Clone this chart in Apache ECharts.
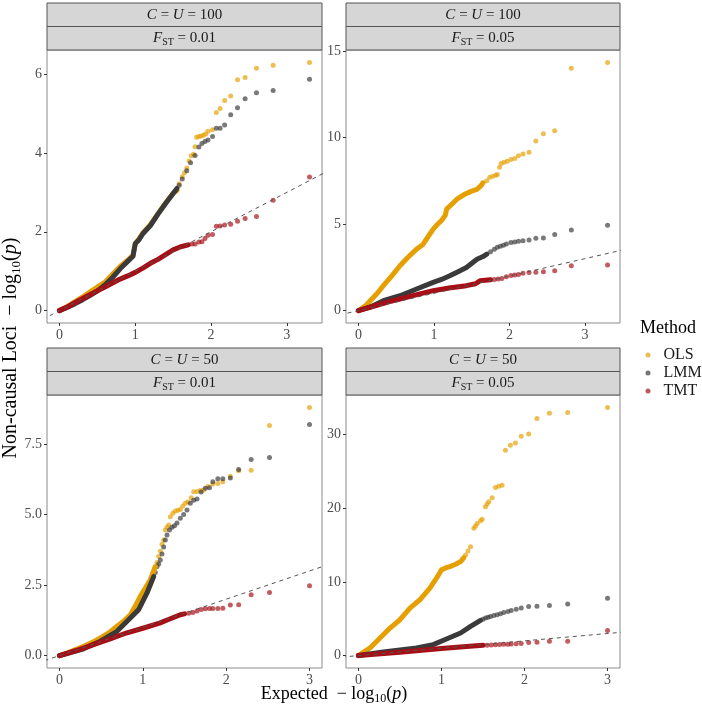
<!DOCTYPE html>
<html>
<head>
<meta charset="utf-8">
<script src="https://cdn.jsdelivr.net/npm/echarts@6/dist/echarts.min.js"></script>
<style>
html, body { margin: 0; padding: 0; background: #fff; }
#chart { width: 702px; height: 707px; }
</style>
</head>
<body>
<div id="chart"></div>
<script>
// 分面标题
const stripTop = ['100', '100', '50', '50']
const stripFst = ['0.01', '0.05', '0.01', '0.05']
const methods = ['OLS', 'LMM', 'TMT']

// 刻度
const xTicks = [0, 1, 2, 3]
const yTicksA = [0, 2, 4, 6]
const yTicksB = [0, 5, 10, 15]
const yTicksC = [0, 2.5, 5, 7.5]
const yTicksD = [0, 10, 20, 30]

// 参考线 y = x
const abline = [[-5, -5], [40, 40]]

// C = U = 100, FST = 0.01
const a_ols_band = [[0,0],[0.1,0.1],[0.2,0.22],[0.3,0.34],[0.4,0.47],[0.5,0.6],[0.6,0.72],[0.7,0.92],[0.8,1.12],[0.9,1.28],[0.97,1.4],[1.0,1.7],[1.05,1.82],[1.1,1.97],[1.2,2.18],[1.3,2.46],[1.4,2.73],[1.5,2.98],[1.55,3.05]]
const a_ols_dots = [[1.58,3.22],[1.62,3.4],[1.65,3.5],[1.68,3.62],[1.71,3.8],[1.74,3.93],[1.77,3.97],[1.79,4.16],[1.81,4.4],[1.84,4.42],[1.87,4.43],[1.9,4.45],[1.93,4.48],[1.96,4.55],[2.02,4.59],[2.07,5.03],[2.12,5.13],[2.18,5.33],[2.26,5.45],[2.35,5.86],[2.45,5.92],[2.6,6.15],[2.82,6.23],[3.3,6.3]]
const a_lmm_band = [[0,0],[0.1,0.08],[0.2,0.17],[0.3,0.27],[0.4,0.38],[0.5,0.5],[0.6,0.65],[0.7,0.84],[0.8,1.06],[0.9,1.25],[0.97,1.38],[1.0,1.7],[1.05,1.8],[1.1,1.95],[1.2,2.16],[1.3,2.45],[1.4,2.72],[1.5,2.97],[1.55,3.1]]
const a_lmm_dots = [[1.58,3.18],[1.62,3.34],[1.68,3.55],[1.73,3.75],[1.79,3.94],[1.84,4.15],[1.88,4.24],[1.92,4.29],[1.96,4.33],[2.02,4.42],[2.07,4.63],[2.12,4.63],[2.18,4.71],[2.26,4.97],[2.35,5.15],[2.45,5.38],[2.6,5.53],[2.82,5.59],[3.3,5.87]]
const a_tmt_band = [[0,0],[0.1,0.09],[0.2,0.2],[0.3,0.3],[0.4,0.4],[0.5,0.5],[0.6,0.6],[0.7,0.7],[0.8,0.8],[0.9,0.88],[1.0,0.97],[1.1,1.08],[1.2,1.2],[1.3,1.3],[1.4,1.42],[1.5,1.54],[1.6,1.62],[1.7,1.67]]
const a_tmt_dots = [[1.75,1.69],[1.79,1.69],[1.84,1.74],[1.88,1.75],[1.92,1.83],[1.96,1.91],[2.02,1.93],[2.07,2.14],[2.12,2.15],[2.18,2.17],[2.26,2.19],[2.35,2.27],[2.45,2.34],[2.6,2.39],[2.82,2.8],[3.3,3.39]]

// C = U = 100, FST = 0.05
const b_ols_band = [[0,0],[0.1,0.3],[0.155,0.57],[0.25,1.0],[0.33,1.44],[0.45,2.05],[0.55,2.59],[0.65,3.05],[0.77,3.55],[0.85,3.8],[0.9,4.12],[0.99,4.7],[1.05,5.0],[1.1,5.2],[1.15,5.5],[1.17,5.88],[1.25,6.2],[1.3,6.42],[1.4,6.7],[1.5,6.9],[1.57,7.0],[1.62,7.2],[1.65,7.38]]
const b_ols_dots = [[1.7,7.5],[1.74,7.7],[1.78,7.76],[1.82,7.82],[1.84,7.86],[1.87,8.28],[1.89,8.5],[1.93,8.57],[1.97,8.62],[2.02,8.72],[2.07,8.79],[2.12,8.95],[2.18,9.05],[2.26,9.14],[2.35,9.79],[2.45,10.21],[2.6,10.39],[2.82,14.0],[3.3,14.33]]
const b_lmm_band = [[0,0],[0.15,0.2],[0.33,0.57],[0.55,0.86],[0.77,1.25],[0.99,1.63],[1.1,1.8],[1.21,2.01],[1.32,2.25],[1.43,2.49],[1.57,2.97],[1.65,3.12],[1.7,3.26]]
const b_lmm_dots = [[1.75,3.4],[1.8,3.55],[1.84,3.66],[1.88,3.72],[1.92,3.78],[1.96,3.85],[2.02,3.93],[2.07,3.96],[2.12,4.0],[2.18,4.04],[2.26,4.08],[2.35,4.18],[2.45,4.2],[2.6,4.39],[2.82,4.66],[3.3,4.93]]
const b_tmt_band = [[0,0],[0.2,0.25],[0.4,0.5],[0.55,0.67],[0.8,0.95],[0.99,1.15],[1.2,1.3],[1.43,1.44],[1.55,1.55],[1.61,1.72],[1.75,1.78]]
const b_tmt_dots = [[1.8,1.8],[1.85,1.82],[1.9,1.85],[1.96,1.95],[2.02,2.02],[2.07,2.05],[2.12,2.08],[2.18,2.15],[2.26,2.2],[2.35,2.22],[2.45,2.25],[2.6,2.3],[2.82,2.59],[3.3,2.63]]

// C = U = 50, FST = 0.01
const c_ols_band = [[0,0],[0.1,0.1],[0.2,0.22],[0.29,0.33],[0.4,0.48],[0.49,0.63],[0.6,0.82],[0.69,1.04],[0.78,1.25],[0.85,1.45],[0.9,1.7],[0.97,2.1],[1.03,2.4],[1.09,2.69],[1.15,3.16]]
const c_ols_dots = [[1.17,3.3],[1.19,3.51],[1.21,3.7],[1.23,3.95],[1.25,4.1],[1.27,4.45],[1.29,4.55],[1.31,4.63],[1.33,4.92],[1.36,5.05],[1.39,5.13],[1.42,5.15],[1.45,5.18],[1.48,5.3],[1.51,5.4],[1.54,5.45],[1.58,5.6],[1.61,5.81],[1.65,5.82],[1.69,5.85],[1.73,5.87],[1.78,6.0],[1.84,6.08],[1.9,6.1],[1.96,6.16],[2.05,6.36],[2.15,6.55],[2.3,6.57],[2.52,8.16],[3.0,8.8]]
const c_lmm_band = [[0,0],[0.1,0.08],[0.29,0.24],[0.49,0.51],[0.69,0.86],[0.85,1.33],[0.95,1.63],[1.05,2.22],[1.13,2.8]]
const c_lmm_dots = [[1.15,2.95],[1.17,3.16],[1.19,3.25],[1.21,3.39],[1.23,3.6],[1.25,3.85],[1.27,4.1],[1.29,4.28],[1.32,4.45],[1.35,4.55],[1.38,4.6],[1.41,4.7],[1.45,4.87],[1.49,5.0],[1.53,5.16],[1.57,5.4],[1.61,5.51],[1.65,5.55],[1.7,5.8],[1.75,5.93],[1.8,5.95],[1.84,6.16],[1.9,6.27],[1.96,6.27],[2.05,6.3],[2.15,6.6],[2.3,6.95],[2.52,7.02],[3.0,8.19]]
const c_tmt_band = [[0,0],[0.2,0.18],[0.4,0.38],[0.6,0.58],[0.8,0.8],[1.0,0.97],[1.2,1.15],[1.3,1.27],[1.45,1.45],[1.5,1.48]]
const c_tmt_dots = [[1.55,1.5],[1.6,1.53],[1.65,1.58],[1.7,1.63],[1.75,1.66],[1.8,1.67],[1.84,1.67],[1.9,1.67],[1.96,1.68],[2.05,1.79],[2.15,1.8],[2.3,2.16],[2.52,2.24],[3.0,2.48]]

// C = U = 50, FST = 0.05
const d_ols_band = [[0,0],[0.14,1.04],[0.26,2.39],[0.38,3.74],[0.5,4.87],[0.62,6.45],[0.74,7.58],[0.86,9.16],[0.94,10.51],[1.0,11.64],[1.05,11.9],[1.1,12.09],[1.17,12.4],[1.23,12.76],[1.27,13.3]]
const d_ols_dots = [[1.29,13.67],[1.32,14.2],[1.35,14.79],[1.39,17.28],[1.41,17.6],[1.43,17.95],[1.47,18.3],[1.49,18.5],[1.53,20.2],[1.55,20.6],[1.57,20.88],[1.61,21.42],[1.65,22.82],[1.69,23.0],[1.73,23.14],[1.77,27.87],[1.83,28.55],[1.89,28.86],[1.96,29.8],[2.05,30.1],[2.15,32.2],[2.3,32.9],[2.52,33.0],[3.0,33.7]]
const d_lmm_band = [[0,0],[0.3,0.5],[0.7,1.04],[0.9,1.49],[1.06,2.26],[1.23,3.07],[1.35,3.97],[1.47,4.78]]
const d_lmm_dots = [[1.5,4.95],[1.53,5.1],[1.56,5.2],[1.59,5.32],[1.63,5.45],[1.67,5.55],[1.71,5.68],[1.75,5.85],[1.8,6.0],[1.84,6.13],[1.9,6.3],[1.96,6.45],[2.05,6.67],[2.15,6.7],[2.3,6.8],[2.52,7.0],[3.0,7.8]]
const d_tmt_band = [[0,0],[0.5,0.45],[1.0,0.95],[1.3,1.25],[1.5,1.4]]
const d_tmt_dots = [[1.55,1.42],[1.6,1.45],[1.65,1.48],[1.7,1.5],[1.75,1.53],[1.8,1.55],[1.84,1.58],[1.9,1.6],[1.96,1.65],[2.05,1.78],[2.15,1.8],[2.3,1.94],[2.52,1.94],[3.0,3.42]]

const colors = { OLS: '#E69F00', LMM: '#3A3A3A', TMT: '#A50F15' }
const serif = '"Liberation Serif", "DejaVu Serif", serif'

// 面板布局
const panels = [
    { left: 47, top: 50, width: 275, height: 273, xMin: -0.165, xMax: 3.465, yMin: -0.315, yMax: 6.615, yTicks: yTicksA, digits: 0,
      data: { OLS: [a_ols_band, a_ols_dots], LMM: [a_lmm_band, a_lmm_dots], TMT: [a_tmt_band, a_tmt_dots] } },
    { left: 346, top: 50, width: 274, height: 273, xMin: -0.165, xMax: 3.465, yMin: -0.716, yMax: 15.05, yTicks: yTicksB, digits: 0,
      data: { OLS: [b_ols_band, b_ols_dots], LMM: [b_lmm_band, b_lmm_dots], TMT: [b_tmt_band, b_tmt_dots] } },
    { left: 47, top: 395, width: 275, height: 273, xMin: -0.15, xMax: 3.15, yMin: -0.44, yMax: 9.24, yTicks: yTicksC, digits: 1,
      data: { OLS: [c_ols_band, c_ols_dots], LMM: [c_lmm_band, c_lmm_dots], TMT: [c_tmt_band, c_tmt_dots] } },
    { left: 346, top: 395, width: 274, height: 273, xMin: -0.15, xMax: 3.15, yMin: -1.685, yMax: 35.385, yTicks: yTicksD, digits: 0,
      data: { OLS: [d_ols_band, d_ols_dots], LMM: [d_lmm_band, d_lmm_dots], TMT: [d_tmt_band, d_tmt_dots] } },
]

const grid = [], xAxis = [], yAxis = [], series = [], graphic = []

panels.forEach((p, i) => {
    grid.push({ left: p.left, top: p.top, width: p.width, height: p.height, show: true,
        borderColor: '#8C8C8C', borderWidth: 1, backgroundColor: '#fff' })
    const tickStyle = { show: true, length: 3, lineStyle: { color: '#333', width: 1 } }
    xAxis.push({ type: 'value', gridIndex: i, min: p.xMin, max: p.xMax,
        axisLine: { show: false, onZero: false }, splitLine: { show: false },
        axisTick: Object.assign({ customValues: xTicks }, tickStyle),
        axisLabel: { customValues: xTicks, margin: 5, color: '#4D4D4D', fontSize: 14, fontFamily: serif } })
    yAxis.push({ type: 'value', gridIndex: i, min: p.yMin, max: p.yMax,
        axisLine: { show: false, onZero: false }, splitLine: { show: false },
        axisTick: Object.assign({ customValues: p.yTicks }, tickStyle),
        axisLabel: { customValues: p.yTicks, margin: 5, color: '#4D4D4D', fontSize: 14, fontFamily: serif,
            formatter: v => Number(v).toFixed(p.digits) } })

    methods.forEach(m => {
        const [band, dots] = p.data[m]
        series.push({ type: 'line', name: m, xAxisIndex: i, yAxisIndex: i, data: band,
            showSymbol: false, silent: true, color: colors[m],
            lineStyle: { width: 5, color: colors[m], opacity: 1, cap: 'round', join: 'round' } })
        series.push({ type: 'scatter', name: m, xAxisIndex: i, yAxisIndex: i, data: dots,
            symbolSize: 5, silent: true, color: colors[m],
            itemStyle: { color: colors[m], opacity: 0.68 } })
    })
    series.push({ type: 'line', name: 'abline', xAxisIndex: i, yAxisIndex: i, data: abline,
        showSymbol: false, silent: true, z: 5, clip: true,
        lineStyle: { color: '#555', width: 1, type: [4, 4] } })

    // 分面标签
    const h = 23.5
    graphic.push({ type: 'rect', shape: { x: p.left, y: p.top - 2 * h, width: p.width, height: h },
        style: { fill: '#D6D6D6', stroke: '#555', lineWidth: 1 } })
    graphic.push({ type: 'rect', shape: { x: p.left, y: p.top - h, width: p.width, height: h },
        style: { fill: '#D6D6D6', stroke: '#555', lineWidth: 1 } })
    graphic.push({ type: 'text', x: p.left + p.width / 2, y: p.top - 1.5 * h,
        style: { text: '{i|C} = {i|U} = ' + stripTop[i], align: 'center', verticalAlign: 'middle',
            fontSize: 15, fontFamily: serif, fill: '#1A1A1A',
            rich: { i: { fontStyle: 'italic', fontSize: 15, fontFamily: serif, fill: '#1A1A1A' } } } })
    graphic.push({ type: 'text', x: p.left + p.width / 2, y: p.top - 0.5 * h,
        style: { text: '{i|F}{s|ST}{n| = ' + stripFst[i] + '}', align: 'center', verticalAlign: 'middle',
            fontSize: 15, fontFamily: serif, fill: '#1A1A1A',
            rich: {
                i: { fontStyle: 'italic', fontSize: 15, lineHeight: 18, verticalAlign: 'middle', fontFamily: serif, fill: '#1A1A1A' },
                s: { fontSize: 10, lineHeight: 10, verticalAlign: 'bottom', fontFamily: serif, fill: '#1A1A1A' },
                n: { fontSize: 15, lineHeight: 18, verticalAlign: 'middle', fontFamily: serif, fill: '#1A1A1A' },
            } } })
})

function titleRich(size) {
    return {
        t: { fontSize: size, lineHeight: size + 4, verticalAlign: 'middle', fontFamily: serif, fill: '#000' },
        s: { fontSize: Math.round(size * 0.65), lineHeight: Math.round(size * 0.65), verticalAlign: 'bottom', fontFamily: serif, fill: '#000' },
        p: { fontSize: size, lineHeight: size + 4, verticalAlign: 'middle', fontStyle: 'italic', fontFamily: serif, fill: '#000' },
    }
}
graphic.push({ type: 'text', x: 334, y: 694,
    style: { text: '{t|Expected  \u2212 log}{s|10}{t|(}{p|p}{t|)}', align: 'center', verticalAlign: 'middle', rich: titleRich(18) } })
graphic.push({ type: 'text', x: 11, y: 348, rotation: Math.PI / 2,
    style: { text: '{t|Non-causal Loci  \u2212 log}{s|10}{t|(}{p|p}{t|)}', align: 'center', verticalAlign: 'middle', rich: titleRich(20) } })
graphic.push({ type: 'text', x: 640, y: 328,
    style: { text: 'Method', align: 'left', verticalAlign: 'middle', fontSize: 18, fontFamily: serif, fill: '#000' } })

const chart = echarts.init(document.getElementById('chart'), null, { renderer: 'canvas' })
chart.setOption({
    animation: false,
    backgroundColor: '#fff',
    grid, xAxis, yAxis, series, graphic,
    legend: {
        data: methods.map(m => ({ name: m, icon: 'circle' })),
        orient: 'vertical', left: 640.5, top: 342, itemWidth: 5, itemHeight: 5, itemGap: 2,
        itemStyle: { opacity: 0.7 },
        textStyle: { fontSize: 16, lineHeight: 16, fontFamily: serif, color: '#1A1A1A', padding: [0, 0, 0, 8] },
    },
})
</script>
</body>
</html>
